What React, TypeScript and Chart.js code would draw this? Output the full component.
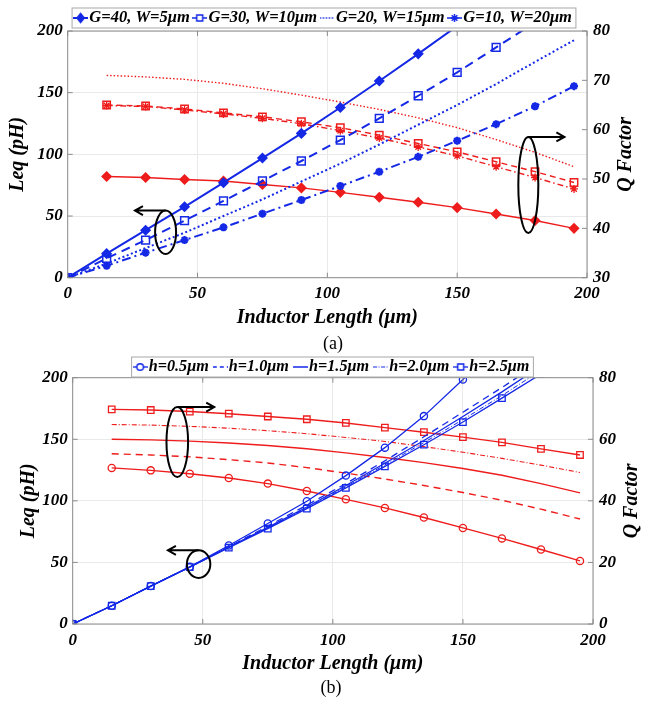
import React, { useEffect, useRef } from "react";
import { Chart, registerables } from "chart.js";
Chart.register(...registerables);

const FONT = "'Liberation Serif', 'Times New Roman', serif";
const BLUE = "rgb(20,40,230)";
const RED = "rgb(238,28,28)";

// ---------- data: panel (a) ----------
const lengthsUm = [0, 15, 30, 45, 60, 75, 90, 105, 120, 135, 150, 165, 180, 195];
const qLengthsUm = [15, 30, 45, 60, 75, 90, 105, 120, 135, 150, 165, 180, 195];

const seriesNamesA = ["G=40, W=5μm", "G=30, W=10μm", "G=20, W=15μm", "G=10, W=20μm"];
const leqG40 = [0, 19.5, 38.5, 57.5, 77, 97, 117, 138, 159.5, 181.5, 204];
const leqG30 = [0, 15.7, 30.5, 46.2, 62.2, 78.4, 94.6, 111.6, 129.2, 147.5, 166.4, 186.7, 207];
const leqG20 = [0, 11.5, 24, 36.5, 50, 63.5, 78, 92.5, 108, 124, 140, 157, 175, 192.5];
const leqG10 = [0, 9.7, 20.3, 30.5, 40.8, 51.9, 63, 74.3, 85.9, 98, 111, 124.5, 139, 155.3];
const qG40 = [50.5, 50.3, 49.9, 49.6, 48.9, 48.2, 47.3, 46.3, 45.3, 44.2, 42.9, 41.6, 40.0];
const qG30 = [65, 64.8, 64.2, 63.4, 62.6, 61.6, 60.4, 58.9, 57.2, 55.5, 53.5, 51.5, 49.3];
const qG20 = [71, 70.7, 70.2, 69.4, 68.3, 67, 65.6, 64.1, 62.4, 60.4, 58, 55.4, 52.5];
const qG10 = [64.9, 64.7, 64, 63.2, 62.3, 61.2, 59.8, 58.3, 56.5, 54.7, 52.5, 50.3, 48];

// ---------- data: panel (b) ----------
const seriesNamesB = ["h=0.5μm", "h=1.0μm", "h=1.5μm", "h=2.0μm", "h=2.5μm"];
const leqH05 = [0, 14.8, 30.8, 46.4, 63.7, 81.6, 99.7, 120.5, 143.2, 168.8, 198.5, 230];
const leqH10 = [0, 14.8, 30.8, 46.3, 62.8, 79.5, 96.5, 114, 132.5, 152, 172, 192, 213];
const leqH15 = [0, 14.8, 30.8, 46.3, 62.4, 78.5, 95, 112.5, 130.5, 149, 168.5, 188.5, 209.5];
const leqH20 = [0, 14.8, 30.8, 46.2, 62.2, 78, 94.3, 111.5, 129.2, 147.3, 166, 185.5, 206];
const leqH25 = [0, 14.8, 30.8, 46.2, 62, 77.5, 93.7, 110.5, 128, 145.6, 164, 183.4, 203];
const qH05 = [50.7, 49.9, 48.8, 47.4, 45.6, 43.2, 40.5, 37.7, 34.6, 31.2, 27.8, 24.2, 20.5];
const qH10 = [55.3, 54.9, 54.3, 53.4, 52.3, 50.8, 49, 47.1, 45, 42.7, 40.2, 37.3, 34.1];
const qH15 = [60, 59.8, 59.4, 58.8, 58, 56.9, 55.6, 54.1, 52.4, 50.5, 48.3, 45.6, 42.6];
const qH20 = [64.8, 64.6, 64.2, 63.6, 62.8, 61.8, 60.6, 59.3, 57.6, 55.8, 53.8, 51.6, 49.2];
const qH25 = [69.7, 69.5, 69, 68.3, 67.4, 66.5, 65.3, 63.8, 62.3, 60.7, 59, 56.9, 54.9];

// axis ranges
const xRange = [0, 200, 50];
const leqRange = [0, 200, 50];
const qRangeA = [30, 80, 10];
const qRangeB = [0, 80, 20];

const pts = (xs: number[], ys: number[]) => ys.map((y, i) => ({ x: xs[i], y }));

type Mk = "diamond" | "square" | "star" | "circle" | "none";

function drawMarker(ctx: CanvasRenderingContext2D, m: Mk, x: number, y: number, r: number, color: string, lw: number, filled: boolean) {
  if (m === "none") return;
  ctx.save();
  ctx.setLineDash([]);
  ctx.strokeStyle = color;
  ctx.fillStyle = color;
  ctx.lineWidth = lw;
  ctx.beginPath();
  if (m === "diamond") {
    ctx.moveTo(x, y - r);
    ctx.lineTo(x + r * 0.8, y);
    ctx.lineTo(x, y + r);
    ctx.lineTo(x - r * 0.8, y);
    ctx.closePath();
  } else if (m === "square") {
    ctx.rect(x - r, y - r, 2 * r, 2 * r);
  } else if (m === "circle") {
    ctx.arc(x, y, r, 0, Math.PI * 2);
  } else if (m === "star") {
    for (let k = 0; k < 4; k++) {
      const a = (k * Math.PI) / 4;
      ctx.moveTo(x + Math.cos(a) * r, y + Math.sin(a) * r);
      ctx.lineTo(x - Math.cos(a) * r, y - Math.sin(a) * r);
    }
  }
  if (filled) ctx.fill();
  else if (m !== "star") {
    ctx.fillStyle = "#fff";
    ctx.fill();
  }
  ctx.stroke();
  ctx.restore();
}

function sample(w: number, color: string, dash: number[], lw: number, m: Mk, r: number, filled: boolean) {
  const h = 14;
  const c = document.createElement("canvas");
  c.width = w;
  c.height = h;
  const ctx = c.getContext("2d")!;
  ctx.strokeStyle = color;
  ctx.lineWidth = lw;
  ctx.setLineDash(dash);
  ctx.beginPath();
  ctx.moveTo(0, h / 2);
  ctx.lineTo(w, h / 2);
  ctx.stroke();
  drawMarker(ctx, m, w / 2, h / 2, r, color, 1.5, filled);
  return c;
}

const decorPlugin = {
  id: "decor",
  afterDraw(chart: any, _args: any, opts: any) {
    const { ctx, chartArea: a } = chart;
    const xs = chart.scales.x;
    const yl = chart.scales.y;
    const yr = chart.scales.y2;
    ctx.save();
    ctx.setLineDash([]);
    ctx.strokeStyle = "#8c8c8c";
    ctx.lineWidth = 1;
    ctx.beginPath();
    xs.ticks.forEach((t: any) => {
      const px = xs.getPixelForValue(t.value);
      ctx.moveTo(px, a.bottom);
      ctx.lineTo(px, a.bottom - 5);
      ctx.moveTo(px, a.top);
      ctx.lineTo(px, a.top + 5);
    });
    yl.ticks.forEach((t: any) => {
      const py = yl.getPixelForValue(t.value);
      ctx.moveTo(a.left, py);
      ctx.lineTo(a.left + 5, py);
    });
    yr.ticks.forEach((t: any) => {
      const py = yr.getPixelForValue(t.value);
      ctx.moveTo(a.right, py);
      ctx.lineTo(a.right - 5, py);
    });
    ctx.stroke();
    ctx.strokeRect(a.left, a.top, a.right - a.left, a.bottom - a.top);

    // legend frame
    const hb = chart.legend && chart.legend.legendHitBoxes;
    if (hb && hb.length) {
      const l = hb[0].left - opts.legPadL;
      const last = hb[hb.length - 1];
      const r = last.left + last.width + opts.legPadR;
      const cy = hb[0].top + hb[0].height / 2;
      ctx.strokeStyle = "#a8a8a8";
      ctx.strokeRect(l, cy - 10, r - l, 20);
    }

    // right axis title (reads bottom to top)
    ctx.save();
    ctx.translate(opts.rightTitleX, (a.top + a.bottom) / 2);
    ctx.rotate(-Math.PI / 2);
    ctx.font = `italic bold 20px ${FONT}`;
    ctx.fillStyle = "#000";
    ctx.textAlign = "center";
    ctx.textBaseline = "middle";
    ctx.fillText(opts.rightTitle, 0, 0);
    ctx.restore();

    // ellipse + arrow call-outs
    ctx.strokeStyle = "#000";
    ctx.lineWidth = 2;
    (opts.callouts || []).forEach((c: any) => {
      const ys = chart.scales[c.axis];
      const px = xs.getPixelForValue(c.cx);
      const py = ys.getPixelForValue(c.cy);
      ctx.beginPath();
      ctx.ellipse(px, py, c.rx, c.ry, 0, 0, Math.PI * 2);
      ctx.stroke();
      const ty = py - c.ry;
      const tx = xs.getPixelForValue(c.tip);
      ctx.beginPath();
      ctx.moveTo(px, ty);
      ctx.lineTo(tx, ty);
      const d = tx < px ? 1 : -1;
      ctx.moveTo(tx + d * 8, ty - 4.5);
      ctx.lineTo(tx, ty);
      ctx.lineTo(tx + d * 8, ty + 4.5);
      ctx.stroke();
    });
    ctx.restore();
  },
};

const tickFont = { family: FONT, size: 17, style: "italic" as const, weight: "bold" as const };
const titleFont = { family: FONT, size: 20, style: "italic" as const, weight: "bold" as const, lineHeight: 1.2 };

function makeOptions(p: any) {
  return {
    animation: false,
    responsive: false,
    devicePixelRatio: 1,
    layout: { padding: { top: p.padTop, left: p.padLeft, right: 0, bottom: 0 } },
    plugins: {
      tooltip: { enabled: false },
      legend: {
        display: true,
        position: "top",
        maxHeight: p.legHeight,
        labels: {
          usePointStyle: true,
          boxWidth: 1,
          padding: p.legPad,
          color: "#000",
          font: { family: FONT, size: p.legFont, style: "italic", weight: "bold" },
          generateLabels: () =>
            p.legendNames.map((t: string, i: number) => ({
              text: t,
              pointStyle: p.samples[i],
              fillStyle: "rgba(0,0,0,0)",
              strokeStyle: "rgba(0,0,0,0)",
              lineWidth: 0,
              hidden: false,
              datasetIndex: i,
              fontColor: "#000",
            })),
        },
      },
      decor: { rightTitle: "Q Factor", rightTitleX: p.rightTitleX, callouts: p.callouts, legPadL: 8, legPadR: 4 },
    },
    scales: {
      x: {
        type: "linear",
        min: xRange[0],
        max: xRange[1],
        afterFit: (s: any) => {
          s.height = p.xHeight;
        },
        ticks: { stepSize: xRange[2], font: tickFont, color: "#000", padding: 6, maxRotation: 0 },
        grid: { color: "#e9e9e9", drawTicks: false },
        border: { display: false },
        title: { display: true, text: "Inductor Length (μm)", font: titleFont, color: "#000", padding: { top: 0, bottom: p.xTitlePad } },
      },
      y: {
        type: "linear",
        position: "left",
        min: leqRange[0],
        max: leqRange[1],
        afterFit: (s: any) => {
          s.width = p.yWidth;
        },
        ticks: { stepSize: leqRange[2], font: tickFont, color: "#000", padding: 5 },
        grid: { color: "#e9e9e9", drawTicks: false },
        border: { display: false },
        title: { display: true, text: "Leq (pH)", font: titleFont, color: "#000", padding: { top: p.yTitlePad, bottom: 0 } },
      },
      y2: {
        type: "linear",
        position: "right",
        min: p.qRange[0],
        max: p.qRange[1],
        afterFit: (s: any) => {
          s.width = p.y2Width;
        },
        ticks: { stepSize: p.qRange[2], font: tickFont, color: "#000", padding: 6 },
        grid: { drawOnChartArea: false, drawTicks: false },
        border: { display: false },
      },
    },
  };
}

function ds(label: string, data: any[], axis: string, color: string, o: any) {
  return {
    label,
    data,
    yAxisID: axis,
    borderColor: color,
    backgroundColor: color,
    borderWidth: o.bw ?? 1.5,
    borderDash: o.dash ?? [],
    pointStyle: o.ps ?? "circle",
    pointRadius: o.pr ?? 0,
    pointBorderWidth: o.pbw ?? 1.5,
    pointBorderColor: color,
    pointBackgroundColor: o.fill ? color : "rgba(255,255,255,0)",
    tension: 0,
    fill: false,
  };
}

function fitTop(chart: any, target: number) {
  for (let k = 0; k < 3; k++) {
    const d = target - chart.chartArea.top;
    if (Math.abs(d) < 0.05) break;
    chart.options.layout.padding.top += d;
    chart.update();
  }
}

export default function App() {
  const refA = useRef<HTMLCanvasElement>(null);
  const refB = useRef<HTMLCanvasElement>(null);

  useEffect(() => {
    // ---------- panel (a) ----------
    const samplesA = [
      sample(15, BLUE, [], 2, "diamond", 4.5, true),
      sample(15, BLUE, [], 1.5, "square", 3, false),
      sample(15, BLUE, [1.5, 1.5], 1.5, "none", 0, false),
      sample(15, BLUE, [], 1.5, "star", 4, true),
    ];
    const chartA = new Chart(refA.current!, {
      type: "line",
      data: {
        datasets: [
          ds(seriesNamesA[0], pts(lengthsUm, leqG40), "y", BLUE, { bw: 2, ps: "rectRot", pr: 4.5, fill: true }),
          ds(seriesNamesA[1], pts(lengthsUm, leqG30), "y", BLUE, { bw: 2, dash: [9, 6], ps: "rect", pr: 5.5 }),
          ds(seriesNamesA[2], pts(lengthsUm, leqG20), "y", BLUE, { bw: 2, dash: [2, 2.5] }),
          ds(seriesNamesA[3], pts(lengthsUm, leqG10), "y", BLUE, { bw: 2, dash: [9, 4, 2, 4], ps: "star", pr: 4, pbw: 2.4 }),
          ds("", pts(qLengthsUm, qG40), "y2", RED, { bw: 1.4, ps: "rectRot", pr: 4.5, fill: true }),
          ds("", pts(qLengthsUm, qG30), "y2", RED, { bw: 1.4, dash: [6, 4], ps: "rect", pr: 5.2 }),
          ds("", pts(qLengthsUm, qG20), "y2", RED, { bw: 1.4, dash: [1.5, 2] }),
          ds("", pts(qLengthsUm, qG10), "y2", RED, { bw: 1.4, dash: [6, 3, 1.5, 3], ps: "star", pr: 4, pbw: 1.3 }),
        ],
      },
      options: makeOptions({
        padTop: 0.3,
        padLeft: 0,
        legHeight: 30.75,
        legFont: 16.5,
        legPad: 9.5,
        legendNames: seriesNamesA,
        samples: samplesA,
        rightTitleX: 626,
        qRange: qRangeA,
        xHeight: 334 - 277.7,
        xTitlePad: 4,
        yWidth: 67.7,
        yTitlePad: 6,
        y2Width: 652 - 587,
        callouts: [
          { axis: "y", cx: 37.7, cy: 36.8, rx: 10.5, ry: 21.7, tip: 25.9 },
          { axis: "y2", cx: 177.4, cy: 48.8, rx: 10, ry: 48, tip: 191.3 },
        ],
      }) as any,
      plugins: [decorPlugin as any],
    });
    fitTop(chartA, 31);

    // ---------- panel (b) ----------
    const samplesB = [
      sample(15, BLUE, [], 1.3, "circle", 3.3, false),
      sample(15, BLUE, [4, 3], 1.3, "none", 0, false),
      sample(15, BLUE, [], 1.5, "none", 0, false),
      sample(15, BLUE, [4, 1.5, 1, 1.5], 1, "none", 0, false),
      sample(15, BLUE, [], 1.3, "square", 3, false),
    ];
    const chartB = new Chart(refB.current!, {
      type: "line",
      data: {
        datasets: [
          ds(seriesNamesB[0], pts(lengthsUm, leqH05), "y", BLUE, { bw: 1.3, ps: "circle", pr: 3.6, pbw: 1.3 }),
          ds(seriesNamesB[1], pts(lengthsUm, leqH10), "y", BLUE, { bw: 1.3, dash: [7, 5] }),
          ds(seriesNamesB[2], pts(lengthsUm, leqH15), "y", BLUE, { bw: 1.3 }),
          ds(seriesNamesB[3], pts(lengthsUm, leqH20), "y", BLUE, { bw: 1, dash: [5, 2, 1, 2] }),
          ds(seriesNamesB[4], pts(lengthsUm, leqH25), "y", BLUE, { bw: 1.3, ps: "rect", pr: 4.6, pbw: 1.3 }),
          ds("", pts(qLengthsUm, qH05), "y2", RED, { bw: 1.4, ps: "circle", pr: 3.6, pbw: 1.3 }),
          ds("", pts(qLengthsUm, qH10), "y2", RED, { bw: 1.4, dash: [7, 5] }),
          ds("", pts(qLengthsUm, qH15), "y2", RED, { bw: 1.4 }),
          ds("", pts(qLengthsUm, qH20), "y2", RED, { bw: 1.1, dash: [5, 2, 1, 2] }),
          ds("", pts(qLengthsUm, qH25), "y2", RED, { bw: 1.4, ps: "rect", pr: 4.6, pbw: 1.3 }),
        ],
      },
      options: makeOptions({
        padTop: 8,
        padLeft: 17,
        legHeight: 29.8,
        legFont: 16.2,
        legPad: 11,
        legendNames: seriesNamesB,
        samples: samplesB,
        rightTitleX: 632,
        qRange: qRangeB,
        xHeight: 340 - (624 - 340),
        xTitlePad: 4.5,
        yWidth: 72.7 - 17,
        yTitlePad: 0,
        y2Width: 652 - 593,
        callouts: [
          { axis: "y2", cx: 40.2, cy: 59.1, rx: 10.8, ry: 35, tip: 54.4 },
          { axis: "y", cx: 48.4, cy: 48.6, rx: 11.7, ry: 13.8, tip: 36.6 },
        ],
      }) as any,
      plugins: [decorPlugin as any],
    });
    fitTop(chartB, 377.7 - 340);

    return () => {
      chartA.destroy();
      chartB.destroy();
    };
  }, []);

  const cap: React.CSSProperties = {
    position: "absolute",
    width: 652,
    left: 0,
    textAlign: "center",
    fontFamily: FONT,
    fontSize: 18,
    lineHeight: "20px",
    color: "#000",
  };

  return (
    <div style={{ position: "absolute", left: 0, top: 0, width: 652, height: 701, background: "#fff", overflow: "hidden" }}>
      <canvas ref={refA} width={652} height={334} style={{ position: "absolute", left: 0, top: 0, display: "block" }} />
      <div style={{ ...cap, top: 333, paddingLeft: 14, boxSizing: "border-box" }}>(a)</div>
      <canvas ref={refB} width={652} height={340} style={{ position: "absolute", left: 0, top: 340, display: "block" }} />
      <div style={{ ...cap, top: 677, paddingLeft: 10, boxSizing: "border-box" }}>(b)</div>
    </div>
  );
}
